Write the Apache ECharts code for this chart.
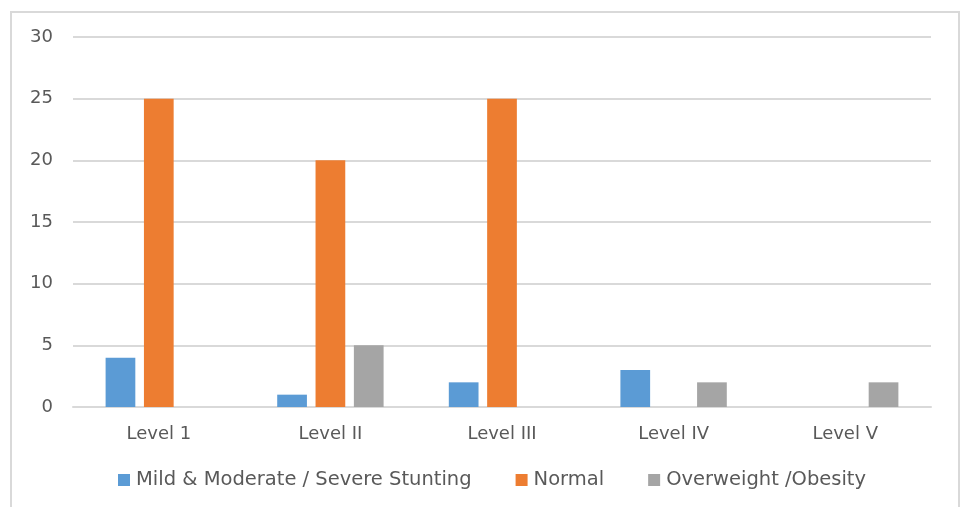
<!DOCTYPE html>
<html>
<head>
<meta charset="utf-8">
<style>
  html, body { margin: 0; padding: 0; background: #fff; overflow: hidden; }
  #chart { width: 963px; height: 507px; }
</style>
<script src="https://cdn.jsdelivr.net/npm/echarts@6/dist/echarts.min.js"></script>
</head>
<body>
<div id="chart"></div>
<script>
// Nutritional status counts by level
const categories = ['Level 1', 'Level II', 'Level III', 'Level IV', 'Level V'];
const seriesNames = ['Mild & Moderate / Severe Stunting', 'Normal', 'Overweight /Obesity'];
const stunting = [4, 1, 2, 3, 0];
const normal = [25, 20, 25, 0, 0];
const overweight = [0, 5, 0, 2, 2];
const colors = ['#5B9BD5', '#ED7D31', '#A5A5A5'];

const FONT = 'DejaVu Sans';
const TEXT = '#595959';

const chart = echarts.init(document.getElementById('chart'), null, { renderer: 'canvas' });

const values = [stunting, normal, overweight];

chart.setOption({
  animation: false,
  backgroundColor: '#ffffff',
  color: colors,
  // chart-area frame: left, top and right edges (the bottom runs off the page)
  graphic: [{
    type: 'polyline',
    shape: { points: [[11, 540], [11, 12], [959, 12], [959, 540]] },
    style: { fill: null, stroke: '#d9d9d9', lineWidth: 2 },
    silent: true
  }],
  grid: { left: 73, right: 32, top: 37, bottom: 100 },
  legend: {
    bottom: 12,
    left: 113,
    itemWidth: 12,
    itemHeight: 12,
    itemGap: 44,
    icon: 'rect',
    textStyle: { fontFamily: FONT, fontSize: 19.5, color: TEXT, padding: [0, 0, 0, 1] },
    data: seriesNames
  },
  xAxis: {
    type: 'category',
    data: categories,
    axisLine: { show: true, lineStyle: { color: '#d9d9d9', width: 2 } },
    axisTick: { show: false },
    axisLabel: { fontFamily: FONT, fontSize: 18, color: TEXT, margin: 18 }
  },
  yAxis: {
    type: 'value',
    min: 0,
    max: 30,
    interval: 5,
    axisLine: { show: false },
    axisTick: { show: false },
    splitLine: { lineStyle: { color: '#d9d9d9', width: 2 } },
    axisLabel: { fontFamily: FONT, fontSize: 18, color: TEXT, margin: 20 }
  },
  series: seriesNames.map((name, i) => ({
    name: name,
    type: 'bar',
    data: values[i],
    barGap: '29%',
    barCategoryGap: '38%',
    itemStyle: { color: colors[i] }
  }))
});
</script>
</body>
</html>
